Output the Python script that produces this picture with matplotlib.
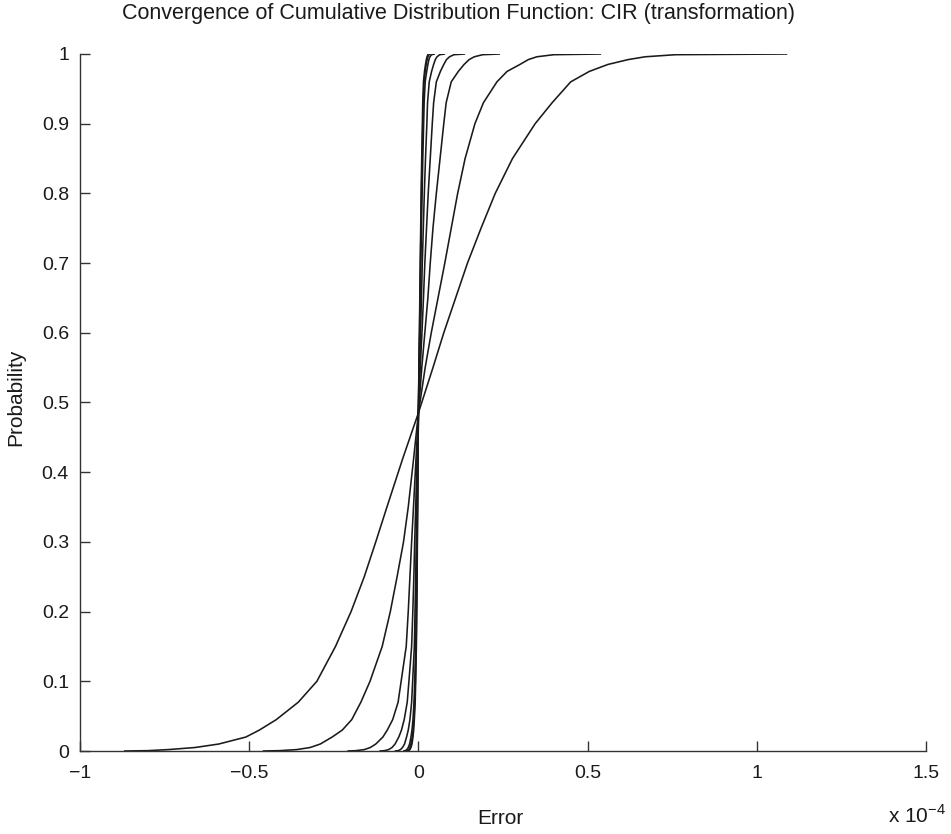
import matplotlib
matplotlib.use("Agg")
import matplotlib.pyplot as plt

plt.rcParams['font.family'] = ['Liberation Sans', 'DejaVu Sans']

# Probability levels shared by all curves
prob = [0.0, 0.0005, 0.002, 0.005, 0.01, 0.02, 0.03, 0.045, 0.07, 0.1,
        0.15, 0.2, 0.25, 0.3, 0.35, 0.42, 0.485, 0.55, 0.6, 0.65,
        0.7, 0.75, 0.8, 0.85, 0.9, 0.93, 0.96, 0.975, 0.985, 0.992,
        0.996, 0.999, 1.0]

# Error values (in units of 1e-4) at each probability level, one list per curve
err_1 = [-0.87, -0.80, -0.74, -0.66, -0.59, -0.51, -0.47, -0.42, -0.355, -0.30,
         -0.245, -0.199, -0.16, -0.126, -0.093, -0.046, 0.0, 0.043, 0.075, 0.11,
         0.145, 0.185, 0.227, 0.278, 0.345, 0.395, 0.45, 0.505, 0.56, 0.62,
         0.67, 0.76, 1.09]
err_2 = [-0.46, -0.41, -0.36, -0.32, -0.29, -0.255, -0.225, -0.197, -0.17, -0.143,
         -0.107, -0.083, -0.063, -0.044, -0.03, -0.014, 0.0, 0.02, 0.038, 0.058,
         0.078, 0.097, 0.116, 0.138, 0.167, 0.192, 0.232, 0.262, 0.30, 0.325,
         0.35, 0.40, 0.54]
err_3 = [-0.21, -0.185, -0.16, -0.142, -0.126, -0.105, -0.092, -0.076, -0.06, -0.051,
         -0.036, -0.030, -0.025, -0.020, -0.0145, -0.007, 0.0, 0.010, 0.019, 0.028,
         0.035, 0.043, 0.053, 0.064, 0.075, 0.082, 0.097, 0.118, 0.135, 0.15,
         0.165, 0.19, 0.241]
err_4 = [-0.115, -0.10, -0.088, -0.078, -0.069, -0.058, -0.05, -0.042, -0.033, -0.028,
         -0.02, -0.0165, -0.0135, -0.011, -0.008, -0.004, 0.0, 0.0055, 0.0105, 0.015,
         0.019, 0.024, 0.029, 0.035, 0.041, 0.045, 0.053, 0.065, 0.075, 0.083,
         0.092, 0.105, 0.138]
err_5 = [-0.07, -0.06, -0.053, -0.047, -0.041, -0.035, -0.03, -0.025, -0.02, -0.017,
         -0.012, -0.01, -0.008, -0.0065, -0.0048, -0.0024, 0.0, 0.0033, 0.0063, 0.009,
         0.0115, 0.0145, 0.0175, 0.021, 0.025, 0.027, 0.032, 0.039, 0.045, 0.05,
         0.055, 0.063, 0.079]
err_6 = [-0.045, -0.039, -0.034, -0.03, -0.026, -0.022, -0.019, -0.016, -0.013, -0.011,
         -0.008, -0.0065, -0.005, -0.004, -0.003, -0.0015, 0.0, 0.002, 0.004, 0.0056,
         0.0072, 0.009, 0.011, 0.013, 0.0155, 0.017, 0.02, 0.0245, 0.028, 0.031,
         0.034, 0.039, 0.049]
err_7 = [-0.038, -0.032, -0.028, -0.025, -0.022, -0.018, -0.016, -0.013, -0.011, -0.009,
         -0.0066, -0.0054, -0.0042, -0.0034, -0.0025, -0.0012, 0.0, 0.0017, 0.0033, 0.0047,
         0.006, 0.0075, 0.009, 0.011, 0.013, 0.0142, 0.0167, 0.02, 0.023, 0.026,
         0.028, 0.031, 0.036]
err_8 = [-0.034, -0.029, -0.025, -0.022, -0.019, -0.016, -0.014, -0.012, -0.0095, -0.008,
         -0.006, -0.0048, -0.0038, -0.003, -0.0022, -0.0011, 0.0, 0.0015, 0.003, 0.0042,
         0.0054, 0.0068, 0.0081, 0.0098, 0.0117, 0.0128, 0.015, 0.018, 0.021, 0.0235,
         0.0255, 0.028, 0.033]
curves = [err_1, err_2, err_3, err_4, err_5, err_6, err_7, err_8]

xticks = [-1, -0.5, 0, 0.5, 1, 1.5]
xtick_labels = ['\u22121', '\u22120.5', '0', '0.5', '1', '1.5']
yticks = [0, 0.1, 0.2, 0.3, 0.4, 0.5, 0.6, 0.7, 0.8, 0.9, 1.0]
ytick_labels = ['0', '0.1', '0.2', '0.3', '0.4', '0.5', '0.6', '0.7', '0.8', '0.9', '1']

fig = plt.figure(figsize=(9.51, 8.34), dpi=100)
ax = fig.add_axes([80 / 951, 1 - 751 / 834, 846 / 951, 697 / 834])

for c in curves:
    ax.plot(c, prob, color='#1a1a1a', linewidth=1.15,
            solid_joinstyle='round', solid_capstyle='butt')

ax.set_xlim(-1, 1.5)
ax.set_ylim(0, 1)
ax.set_xticks(xticks)
ax.set_xticklabels(xtick_labels)
ax.set_yticks(yticks)
ax.set_yticklabels(ytick_labels)
for s in ['top', 'right']:
    ax.spines[s].set_visible(False)
for s in ['left', 'bottom']:
    ax.spines[s].set_color('#333333')
    ax.spines[s].set_linewidth(1.0)
ax.tick_params(direction='in', length=7, width=1.0, color='#333333',
               labelsize=14, labelcolor='#1a1a1a')
ax.tick_params(axis='x', pad=10)
ax.tick_params(axis='y', pad=8)

fig.text(458 / 951, 1 - 14 / 834, 'Convergence of Cumulative Distribution Function: CIR (transformation)',
         ha='center', va='center', fontsize=15.5, color='#1a1a1a')
fig.text(500 / 951, 1 - 819 / 834, 'Error', ha='center', va='center', fontsize=15, color='#1a1a1a')
fig.text(16 / 951, 1 - 397 / 834, 'Probability', ha='center', va='center', rotation=90,
         fontsize=15, color='#1a1a1a')
fig.text(917 / 951, 1 - 815 / 834, 'x 10$^{\\mathregular{\u22124}}$', ha='center', va='center',
         fontsize=15, color='#1a1a1a')

fig.savefig('out.png', dpi=100, facecolor='white')
